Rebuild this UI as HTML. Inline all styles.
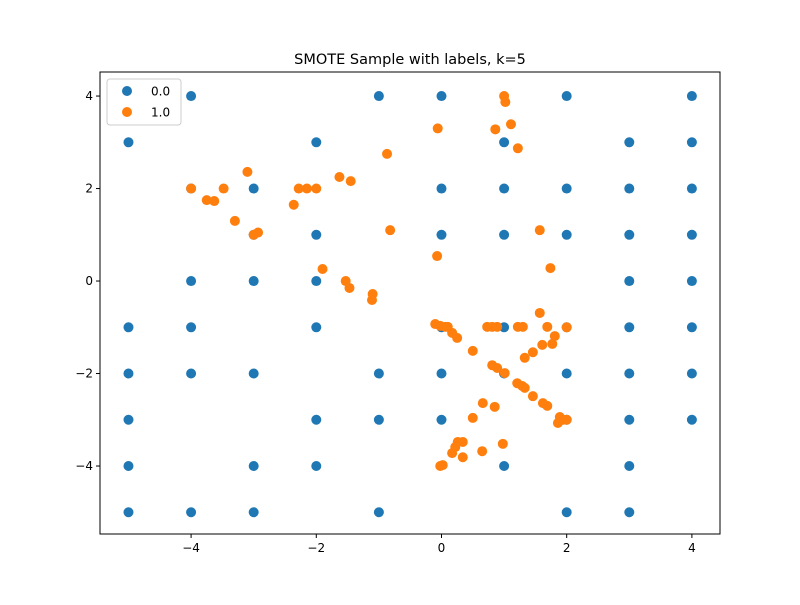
<!DOCTYPE html>
<html><head><meta charset="utf-8"><style>
body{margin:0;background:#fff;}
svg text{font-family:"DejaVu Sans","Liberation Sans",sans-serif;}
</style></head><body>
<svg id="chart" width="800" height="600" xmlns="http://www.w3.org/2000/svg"></svg>
<script>
const blueX=[-5,-5,-5,-5,-5,-5,-4,-4,-4,-4,-4,-4,-3,-3,-3,-3,-3,-3,-2,-2,-2,-2,-2,-2,-1,-1,-1,-1,0,0,0,0,0,0,1,1,1,1,1,1,2,2,2,2,2,2,2,3,3,3,3,3,3,3,3,3,4,4,4,4,4,4,4,4];
const blueY=[3,-1,-2,-3,-4,-5,4,2,0,-1,-2,-5,2,1,0,-2,-4,-5,3,1,0,-1,-3,-4,4,-2,-3,-5,4,2,1,-1,-2,-3,3,2,1,-1,-2,-4,4,2,1,-1,-2,-3,-5,3,2,1,0,-1,-2,-3,-4,-5,4,3,2,1,0,-1,-2,-3];
const orangeX=[-4,-3.75,-3.63,-3.48,-3.3,-3.1,-3,-2.93,-2.36,-2.28,-2.15,-2,-1.63,-1.45,-0.87,-0.82,-1.9,-1.53,-1.47,-1.1,-1.11,1,1.02,-0.06,0.86,1.11,1.22,1.57,1.74,-0.07,-0.10,-0.02,0.06,0.10,0.17,0.25,0.50,0.73,0.81,0.89,1.22,1.30,1.57,1.69,1.81,2.0,1.77,1.61,1.46,1.33,0.81,0.89,1.01,1.21,1.29,1.33,1.46,1.62,1.69,1.89,1.94,1.86,2.0,0.66,0.85,0.50,0.34,0.26,0.22,0.17,0.34,0.65,0.98,0.02,-0.02];
const orangeY=[2,1.75,1.73,2,1.3,2.36,1,1.05,1.65,2,2,2,2.25,2.16,2.75,1.1,0.26,0,-0.15,-0.28,-0.41,4,3.87,3.3,3.28,3.39,2.87,1.1,0.28,0.54,-0.93,-0.97,-0.99,-0.99,-1.12,-1.23,-1.51,-0.99,-0.99,-0.99,-0.99,-0.99,-0.69,-0.99,-1.19,-1.0,-1.36,-1.38,-1.54,-1.66,-1.82,-1.88,-1.99,-2.21,-2.27,-2.31,-2.49,-2.64,-2.70,-2.94,-3.0,-3.07,-3.0,-2.64,-2.72,-2.96,-3.48,-3.48,-3.59,-3.72,-3.81,-3.68,-3.52,-3.98,-4.0];
const xTicks=[-4,-2,0,2,4];
const yTicks=[-4,-2,0,2,4];
const NS="http://www.w3.org/2000/svg";
const svg=document.getElementById('chart');
const L=100,R=720,T=72,B=534,xmin=-5.455,xmax=4.449,ymin=-5.47,ymax=4.52;
const sx=v=>L+(v-xmin)/(xmax-xmin)*(R-L);
const sy=v=>B-(v-ymin)/(ymax-ymin)*(B-T);
function mk(tag,attrs){const e=document.createElementNS(NS,tag);for(const k in attrs)e.setAttribute(k,attrs[k]);svg.appendChild(e);return e;}
let t=mk('text',{x:410,y:64,'text-anchor':'middle','font-size':14.5});t.textContent='SMOTE Sample with labels, k=5';


blueX.forEach((x,i)=>{const c=mk('circle',{cx:sx(x),cy:sy(blueY[i]),r:5,fill:'#1f77b4'});

});
orangeX.forEach((x,i)=>{const c=mk('circle',{cx:sx(x),cy:sy(orangeY[i]),r:5,fill:'#ff7f0e'});

});
const frame=mk('rect',{x:L,y:T,width:R-L,height:B-T,fill:'none',stroke:'#000','stroke-width':1});


xTicks.forEach(v=>{mk('line',{x1:sx(v),x2:sx(v),y1:B,y2:B+4,stroke:'#000'});
const tx=mk('text',{x:sx(v),y:B+18,'text-anchor':'middle','font-size':12});tx.textContent=(v<0?'\u2212'+(-v):v);

});
yTicks.forEach(v=>{mk('line',{x1:L-4,x2:L,y1:sy(v),y2:sy(v),stroke:'#000'});
const ty=mk('text',{x:L-7,y:sy(v)+4,'text-anchor':'end','font-size':12});ty.textContent=(v<0?'\u2212'+(-v):v);

});
const lg=mk('rect',{x:107,y:79,width:74,height:46,rx:3,fill:'#fff','fill-opacity':0.8,stroke:'#ccc'});


[['0.0','#1f77b4',91],['1.0','#ff7f0e',112]].forEach(([lab,col,y])=>{
const c=mk('circle',{cx:127,cy:y,r:5,fill:col});


const tt=mk('text',{x:151,y:y+4.5,'font-size':12});tt.textContent=lab;

});
</script>
</body></html>
